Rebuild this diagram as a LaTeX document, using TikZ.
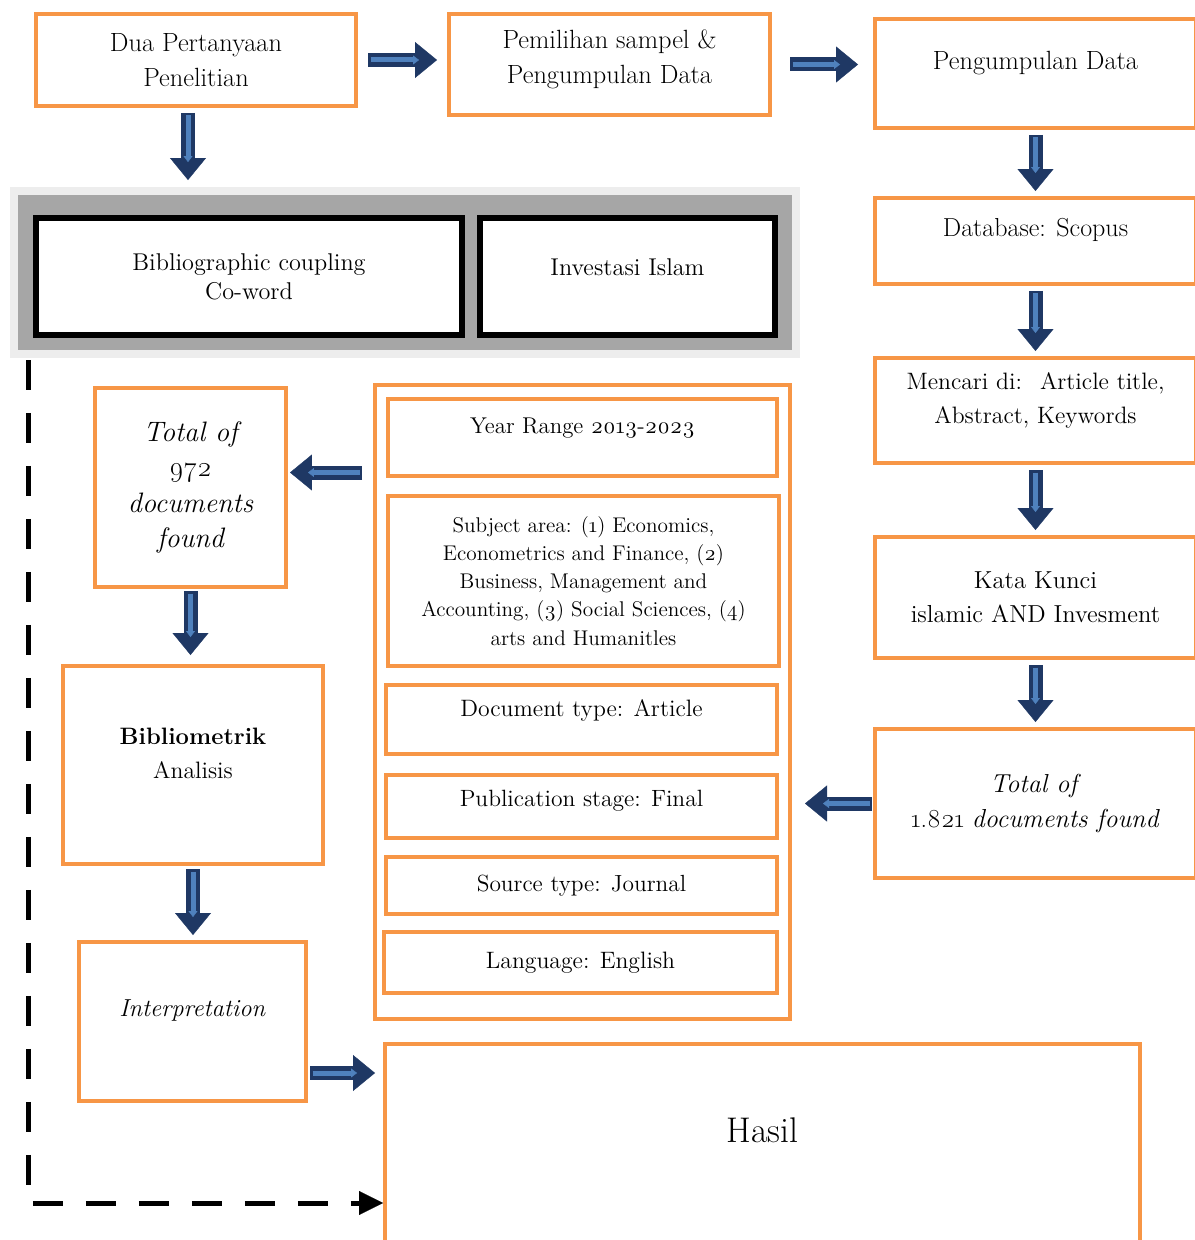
\documentclass[tikz,border=0pt]{standalone}
\usepackage{fontspec}
\setmainfont{Latin Modern Roman}[Numbers=OldStyle]
\usetikzlibrary{arrows.meta}
\definecolor{boxorange}{HTML}{F79646}
\definecolor{arrnavy}{HTML}{1F3864}
\definecolor{arrblue}{HTML}{4F81BD}
\definecolor{framegray}{HTML}{A6A6A6}
\definecolor{shadegray}{HTML}{EDEDED}
\begin{document}
\begin{tikzpicture}[x=0.02cm,y=-0.02cm,
obox/.style 2 args={draw=boxorange,line width=0.08cm,fill=white,minimum width=#1*0.02cm,minimum height=#2*0.02cm,inner sep=0pt,align=center,font=\fontsize{13.5}{19.5}\selectfont},
kbox/.style={draw=black,line width=0.12cm,fill=white,minimum width=#1*0.02cm,minimum height=2.34cm,inner sep=0pt,align=center,font=\fontsize{13.8}{16.5}\selectfont},
barrow/.style 2 args={arrnavy,line width=0.28cm,shorten <=#1,shorten >=#2,-{Triangle[length=0.44cm,width=0.72cm,line width=0.2pt]},
  postaction={draw=arrblue,line width=0.1cm,shorten <=#1+0.05cm,shorten >=#2+0.36cm,-{Triangle[length=0.12cm,width=0.18cm,line width=0.2pt]}}}]
\useasboundingbox (0,0) rectangle (1194,1240);
\node[obox={320}{92},font=\fontsize{15}{20}\selectfont] (q1) at (196,60) {Dua Pertanyaan\\Penelitian};
\node[obox={321}{101},text depth=9pt,font=\fontsize{15}{20}\selectfont] (q2) at (609.5,64.5) {Pemilihan sampel \&\\Pengumpulan Data};
\node[obox={321}{109},text depth=15pt,font=\fontsize{15}{20}\selectfont] (p1) at (1035.5,73.5) {Pengumpulan Data};
\node[obox={321}{86},text depth=15pt,font=\fontsize{14.8}{20}\selectfont] (p2) at (1035.5,241) {Database: Scopus};
\node[obox={321}{105},text depth=14pt] (p3) at (1035.5,410.5) {Mencari di:~ Article title,\\Abstract, Keywords};
\node[obox={321}{121},font=\fontsize{14}{19.5}\selectfont] (p4) at (1035.5,597.5) {Kata Kunci\\islamic AND Invesment};
\node[obox={321}{149},font=\fontsize{14.8}{20}\selectfont] (p5) at (1035.5,803.5) {\textit{Total of}\\1.821 \textit{documents found}};
\node[draw=shadegray,line width=0.16cm,fill=framegray,minimum width=15.64cm,minimum height=3.26cm] (frame) at (405,272.5) {};
\node[kbox=426] (b1) at (249,276.5) {Bibliographic coupling\\Co-word};
\node[kbox=295,text depth=11pt] (b2) at (627.5,276.5) {Investasi Islam};
\node[obox={191}{199},font=\fontsize{16}{20}\selectfont\itshape] (t1) at (190.5,487.5) {Total of\\\textup{972}\\documents\\found};
\node[obox={260}{198},text depth=13.5pt] (an) at (193,765) {\textbf{Bibliometrik}\\Analisis};
\node[obox={227}{159},text depth=15pt,font=\fontsize{14}{19}\selectfont] (ip) at (192.5,1021.5) {\textit{Interpretation}};
\node[obox={415}{634}] (filt) at (582.5,702) {};
\node[obox={389}{77},text depth=13pt,font=\fontsize{13}{18}\selectfont] (f1) at (582.5,437.5) {Year Range 2013-2023};
\node[obox={391}{170},font=\fontsize{12.1}{16}\selectfont] (f2) at (583.5,581) {Subject area: (1) Economics,\\Econometrics and Finance, (2)\\Business, Management and\\Accounting, (3) Social Sciences, (4)\\arts and Humanitles};
\node[obox={391}{69},text depth=13pt,font=\fontsize{13.5}{18}\selectfont] (f3) at (581.5,719.5) {Document type: Article};
\node[obox={391}{63},text depth=9pt,font=\fontsize{13.4}{18}\selectfont] (f4) at (581.5,806.5) {Publication stage: Final};
\node[obox={391}{57},font=\fontsize{13.3}{18}\selectfont] (f5) at (581.5,885.5) {Source type: Journal};
\node[obox={393}{61},font=\fontsize{13.5}{18}\selectfont] (f6) at (580.5,962.5) {Language: English};
\node[obox={755}{199},text depth=15pt,font=\fontsize{20.3}{24}\selectfont] (hasil) at (762.5,1143) {Hasil};
\draw[barrow={0.2cm}{0.2cm}] (q1.east) -- (q1.east -| q2.west);
\draw[barrow={0.36cm}{0.3cm}] (q2.east) -- (q2.east -| p1.west);
\draw[barrow={0.1cm}{0.14cm}] ([xshift=-0.16cm]q1.south) -- ([xshift=-0.16cm]q1.south |- frame.north);
\foreach \a/\b in {p1/p2,p2/p3,p3/p4,p4/p5}
{
    \draw[barrow={0.1cm}{0.1cm}] (\a.south) -- (\b.north);
}
\draw[barrow={0.02cm}{0.26cm}] (p5.west) -- (p5.west -| filt.east);
\draw[barrow={0.22cm}{0.04cm}] ([yshift=0.3cm]t1.east -| filt.west) -- ([yshift=0.3cm]t1.east);
\draw[barrow={0.04cm}{0.18cm}] (t1.south) -- (t1.south |- an.north);
\draw[barrow={0.06cm}{0.1cm}] (an.south) -- (an.south |- ip.north);
\draw[barrow={0.04cm}{0.16cm}] ([yshift=-1.03cm]ip.east) -- ([yshift=-1.03cm]ip.east -| hasil.west);
\coordinate (dstart) at (28,360);
\draw[line width=0.1cm,dash pattern=on 0.6cm off 0.46cm,-{Triangle[length=0.48cm,width=0.48cm,line width=0.2pt]}] (dstart) |- ([yshift=-1.2cm]hasil.west);
\end{tikzpicture}
\end{document}
